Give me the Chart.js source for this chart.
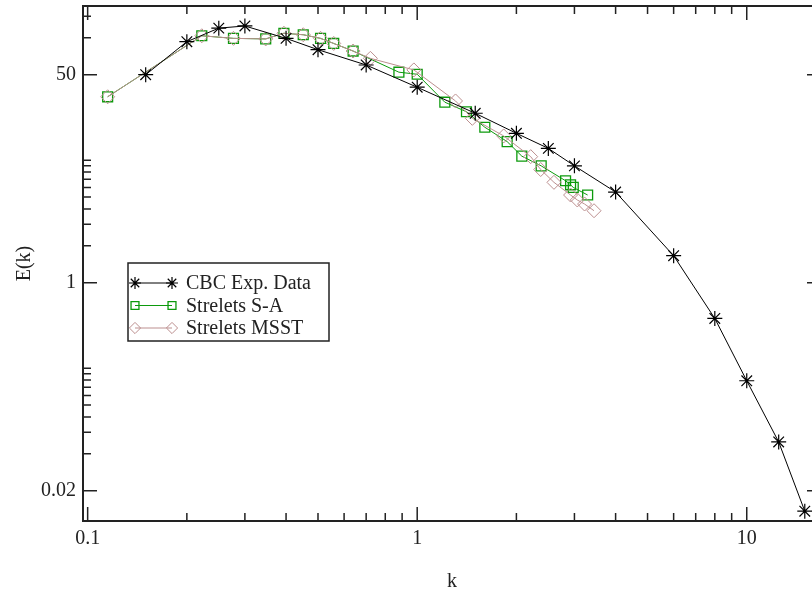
<!DOCTYPE html>
<html>
<head>
<meta charset="utf-8">
<script src="https://cdn.jsdelivr.net/npm/chart.js@4/dist/chart.umd.min.js"></script>
<style>
  html, body { margin: 0; padding: 0; background: #fff; overflow: hidden; }
  #wrap { width: 823px; height: 596px; }
</style>
</head>
<body>
<div id="wrap"><canvas id="spectrum" width="823" height="596"></canvas></div>
<script>
// Energy spectrum E(k), log-log

const kCbc = [0.15, 0.2, 0.25, 0.3, 0.4, 0.5, 0.7, 1.0, 1.5, 2.0, 2.5, 3.0, 4.0, 6.0, 8.0, 10.0, 12.5, 15.0];
const eCbc = [50, 93, 120, 125, 99, 80, 60, 39.5, 24.2, 16.6, 12.5, 9.0, 5.5, 1.66, 0.51, 0.158, 0.050, 0.0136];

const kSa = [0.115, 0.222, 0.277, 0.347, 0.394, 0.451, 0.509, 0.558, 0.639, 0.88, 1.0, 1.213, 1.411, 1.604, 1.875, 2.077, 2.378, 2.82, 2.92, 2.975, 3.29];
const eSa = [33.0, 104, 99, 98, 109, 106, 99, 90, 78, 52.4, 50.4, 29.8, 24.9, 18.6, 14.2, 10.8, 9.0, 6.8, 6.3, 6.0, 5.2];

const kMsst = [0.115, 0.222, 0.277, 0.347, 0.394, 0.451, 0.509, 0.558, 0.639, 0.721, 0.977, 1.307, 1.47, 1.83, 2.21, 2.37, 2.6, 2.92, 3.06, 3.22, 3.44];
const eMsst = [33.0, 104, 99, 98, 109, 106, 99, 90, 78, 68, 54.7, 30.5, 22.0, 15.8, 10.7, 8.4, 6.6, 5.2, 4.74, 4.39, 3.87];

const seriesNames = ['CBC Exp. Data', 'Strelets S-A', 'Strelets MSST'];

// ticks (grace style: minor ticks are multiples of the lower major tick)
const kTicks = [0.1, 0.2, 0.3, 0.4, 0.5, 0.6, 0.7, 0.8, 0.9, 1, 2, 3, 4, 5, 6, 7, 8, 9, 10];
const kMajor = [0.1, 1, 10];
const kMajorText = ['0.1', '1', '10'];
const eTicks = [0.02, 0.04, 0.06, 0.08, 0.1, 0.12, 0.14, 0.16, 0.18, 0.2, 1, 2, 3, 4, 5, 6, 7, 8, 9, 10, 50, 100, 150];
const eMajor = [0.02, 1, 50];
const eMajorText = ['0.02', '1', '50'];

const serif = "'Liberation Serif', 'DejaVu Serif', serif";
const ink = '#222';

function pairs(xs, ys) {
  return xs.map((x, i) => ({ x: x, y: ys[i] }));
}

// frame on all four sides with inward ticks
const frameTicks = {
  id: 'frameTicks',
  afterDatasetsDraw(chart) {
    const { ctx, chartArea: a } = chart;
    const sx = chart.scales.x, sy = chart.scales.y;
    ctx.save();
    ctx.strokeStyle = ink;
    ctx.lineWidth = 1.5;
    ctx.beginPath();
    sx.ticks.forEach(t => {
      const px = sx.getPixelForValue(t.value);
      const len = kMajor.includes(t.value) ? 14 : 8;
      ctx.moveTo(px, a.bottom); ctx.lineTo(px, a.bottom - len);
      ctx.moveTo(px, a.top); ctx.lineTo(px, a.top + len);
    });
    sy.ticks.forEach(t => {
      const py = sy.getPixelForValue(t.value);
      const len = eMajor.includes(t.value) ? 14 : 8;
      ctx.moveTo(a.left, py); ctx.lineTo(a.left + len, py);
      ctx.moveTo(a.right, py); ctx.lineTo(a.right - len, py);
    });
    ctx.stroke();
    ctx.lineWidth = 2;
    ctx.strokeRect(a.left, a.top, a.right - a.left, a.bottom - a.top);
    ctx.restore();
  }
};

// boxed legend: line with a marker at each end
const boxLegend = {
  id: 'boxLegend',
  afterDraw(chart) {
    const ctx = chart.ctx;
    const left = 128, top = 263, w = 201, h = 78;
    const rowY = [283, 305.5, 328];
    ctx.save();
    ctx.fillStyle = '#fff';
    ctx.fillRect(left, top, w, h);
    ctx.strokeStyle = ink;
    ctx.lineWidth = 1.5;
    ctx.strokeRect(left, top, w, h);
    chart.data.datasets.forEach((ds, i) => {
      const yy = rowY[i];
      ctx.strokeStyle = ds.borderColor;
      ctx.lineWidth = ds.borderWidth;
      ctx.beginPath();
      ctx.moveTo(135, yy);
      ctx.lineTo(172, yy);
      ctx.stroke();
      ctx.fillStyle = 'rgba(0,0,0,0)';
      ctx.strokeStyle = ds.pointBorderColor;
      ctx.lineWidth = ds.pointBorderWidth;
      [135, 172].forEach(px => {
        Chart.helpers.drawPoint(ctx, {
          pointStyle: ds.pointStyle,
          radius: ds.pointRadius * 0.8,
          borderWidth: ds.pointBorderWidth,
          rotation: 0
        }, px, yy);
      });
      ctx.fillStyle = ink;
      ctx.font = '20px ' + serif;
      ctx.textAlign = 'left';
      ctx.textBaseline = 'middle';
      ctx.fillText(ds.label, 186, yy + 1);
    });
    ctx.restore();
  }
};

function noEdgePadding(s) {
  s.paddingTop = 0;
  s.paddingBottom = 0;
  s.paddingLeft = 0;
  s.paddingRight = 0;
}

function loadSpectrum() {
  const canvas = document.getElementById('spectrum');
  const ctx = canvas.getContext('2d');

  Chart.defaults.font.family = serif;
  Chart.defaults.font.size = 20;
  Chart.defaults.color = ink;

  new Chart(ctx, {
    type: 'scatter',
    data: {
      datasets: [{
        label: seriesNames[0],
        data: pairs(kCbc, eCbc),
        order: 0,
        showLine: true,
        borderColor: '#000',
        borderWidth: 1,
        pointStyle: 'star',
        pointRadius: 7.5,
        pointBorderColor: '#000',
        pointBorderWidth: 1.2,
        pointBackgroundColor: 'rgba(0,0,0,0)'
      }, {
        label: seriesNames[1],
        data: pairs(kSa, eSa),
        order: 2,
        showLine: true,
        borderColor: '#0c9a0c',
        borderWidth: 1,
        pointStyle: 'rect',
        pointRadius: 7,
        pointBorderColor: '#0c9a0c',
        pointBorderWidth: 1.3,
        pointBackgroundColor: 'rgba(0,0,0,0)'
      }, {
        label: seriesNames[2],
        data: pairs(kMsst, eMsst),
        order: 1,
        showLine: true,
        borderColor: '#bc8f8f',
        borderWidth: 1,
        pointStyle: 'rectRot',
        pointRadius: 7,
        pointBorderColor: '#bc8f8f',
        pointBorderWidth: 1,
        pointBackgroundColor: 'rgba(0,0,0,0)'
      }]
    },
    options: {
      responsive: false,
      animation: false,
      layout: { autoPadding: false, padding: { top: 6, right: 2, left: 0, bottom: 0 } },
      plugins: {
        legend: { display: false },
        tooltip: { enabled: false }
      },
      scales: {
        x: {
          type: 'logarithmic',
          min: 0.0968,
          max: 16.8,
          afterBuildTicks: s => { s.ticks = kTicks.map(v => ({ value: v })); },
          afterFit: s => { s.height = 75; noEdgePadding(s); },
          grid: { display: false, drawTicks: false },
          border: { display: false },
          ticks: {
            autoSkip: false,
            maxRotation: 0,
            padding: 6,
            callback: v => { const i = kMajor.indexOf(v); return i < 0 ? '' : kMajorText[i]; }
          },
          title: { display: true, text: 'k', padding: { top: 0, bottom: 2 } }
        },
        y: {
          type: 'logarithmic',
          min: 0.0113,
          max: 182,
          afterBuildTicks: s => { s.ticks = eTicks.map(v => ({ value: v })); },
          afterFit: s => { s.width = 83; noEdgePadding(s); },
          grid: { display: false, drawTicks: false },
          border: { display: false },
          ticks: {
            autoSkip: false,
            padding: 7,
            callback: v => { const i = eMajor.indexOf(v); return i < 0 ? '' : eMajorText[i]; }
          },
          title: { display: true, text: 'E(k)', padding: { top: 13, bottom: 0 } }
        }
      }
    },
    plugins: [frameTicks, boxLegend]
  });
}
document.addEventListener('DOMContentLoaded', loadSpectrum);
</script>
</body>
</html>
